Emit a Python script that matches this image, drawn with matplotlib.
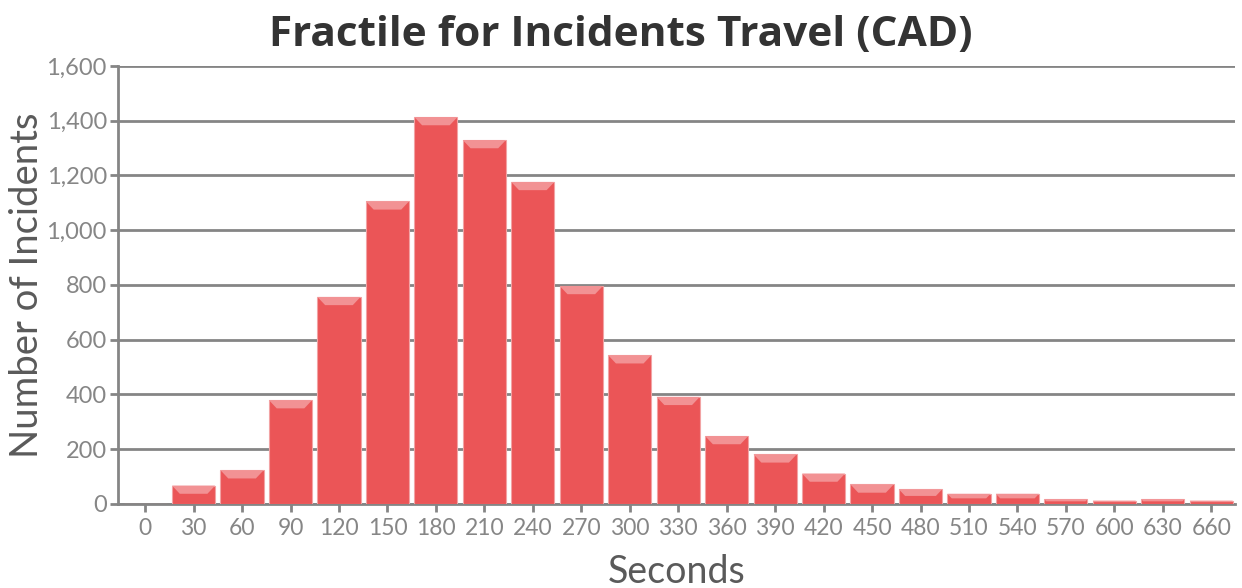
import numpy as np
import matplotlib
matplotlib.use("Agg")
import matplotlib.pyplot as plt
from matplotlib.patches import Polygon

# travel time buckets (seconds) and incident counts
seconds = [0, 30, 60, 90, 120, 150, 180, 210, 240, 270, 300, 330,
           360, 390, 420, 450, 480, 510, 540, 570, 600, 630, 660]
incidents = [0, 67, 123, 379, 756, 1105, 1413, 1329, 1176, 796, 543, 391,
             248, 181, 111, 71, 53, 37, 37, 17, 12, 17, 12]
yticks = [0, 200, 400, 600, 800, 1000, 1200, 1400, 1600]

bar_color = "#eb5557"
top_color = "#f29294"
grid_color = "#858585"
tick_color = "#868686"

fig = plt.figure(figsize=(12.42, 5.88), dpi=100)
ax = fig.add_axes([0.095, 0.143, 0.899, 0.745])

x = np.arange(len(seconds))
w = 0.89
ax.bar(x, incidents, width=w, color=bar_color, edgecolor="#f2a3a4",
       linewidth=0.8, zorder=3)

# lighter bevel along the top of every bar
for xi, v in zip(x, incidents):
    if v <= 0:
        continue
    h = min(30, v * 0.45)
    inset = 0.16 * (h / 30)
    poly = Polygon([(xi - w / 2, v), (xi + w / 2, v),
                    (xi + w / 2 - inset, v - h), (xi - w / 2 + inset, v - h)],
                   closed=True, facecolor=top_color, edgecolor="none", zorder=4)
    ax.add_patch(poly)

ax.set_xlim(-0.56, len(seconds) - 0.52)
ax.set_ylim(0, 1600)
ax.set_yticks(yticks)
ax.set_yticklabels([f"{v:,}" for v in yticks])
ax.set_xticks(x)
ax.set_xticklabels([str(s) for s in seconds])

ax.grid(axis="y", color=grid_color, linewidth=2, zorder=1)
ax.set_axisbelow(True)
for side in ["top", "right"]:
    ax.spines[side].set_visible(False)
ax.spines["left"].set_color(grid_color)
ax.spines["left"].set_linewidth(2)
ax.spines["bottom"].set_color(grid_color)
ax.spines["bottom"].set_linewidth(2)

ax.tick_params(axis="y", length=6, width=2, color=grid_color, labelcolor=tick_color,
               labelsize=17, pad=2)
ax.tick_params(axis="x", length=6, width=2, color=grid_color, labelcolor=tick_color,
               labelsize=16.5, pad=4)
for lab in ax.get_xticklabels() + ax.get_yticklabels():
    lab.set_family("Lato")

ax.set_xlabel("Seconds", fontsize=27, color="#5a5a5a", family="Lato", labelpad=11)
ax.set_ylabel("Number of Incidents", fontsize=27.5, color="#5a5a5a", family="Lato",
              labelpad=1)
fig.suptitle("Fractile for Incidents Travel (CAD)", x=0.5, y=0.975, fontsize=30.5,
             fontweight="bold", color="#333333", family="Open Sans")

fig.savefig("out.png", dpi=100)
